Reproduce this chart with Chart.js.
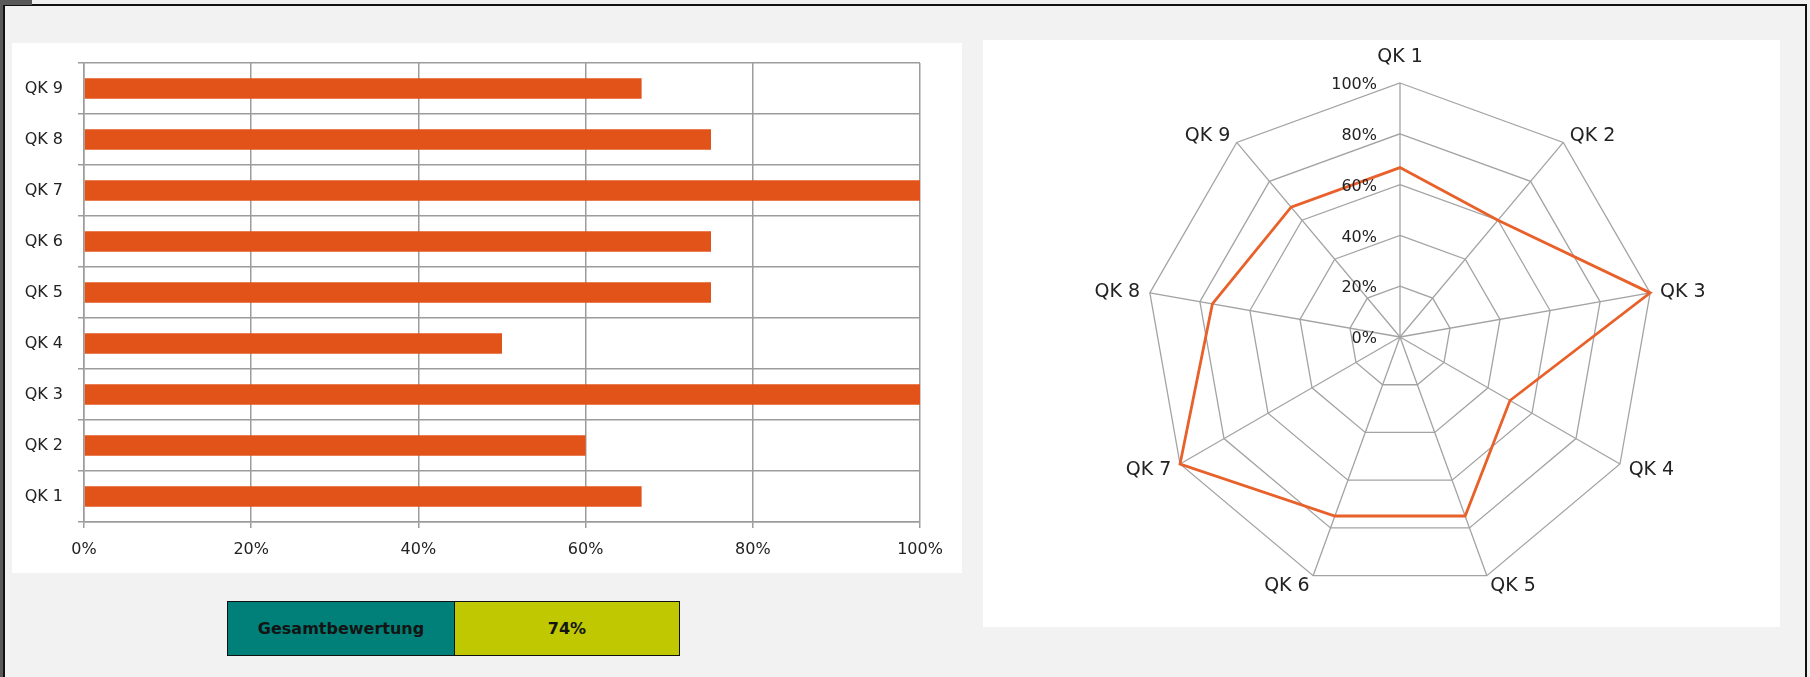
<!DOCTYPE html>
<html>
<head>
<meta charset="utf-8">
<script src="https://cdn.jsdelivr.net/npm/chart.js@4.4.1/dist/chart.umd.min.js"></script>
<style>
  html, body { margin:0; padding:0; width:1810px; height:677px; overflow:hidden; background:#f0f0f0; font-family:"DejaVu Sans", sans-serif; }
  #strip { position:absolute; left:0; top:0; width:3px; height:677px; background:#595959; }
  #tab { position:absolute; left:0; top:0; width:32px; height:5px; background:#595959; }
  #frame { position:absolute; left:3px; top:4px; width:1804px; height:700px; box-sizing:border-box;
           border-top:2px solid #111; border-left:2px solid #111; border-right:2px solid #111; background:#f2f2f2; }
  #barPanel { position:absolute; left:12px; top:43px; width:950px; height:530px; background:#fff; }
  #radarPanel { position:absolute; left:983px; top:40px; width:797px; height:587px; background:#fff; }
  #total { position:absolute; left:227px; top:601px; width:453px; height:55px; box-sizing:border-box;
           border:1.5px solid #111; display:flex; }
  #total div { display:flex; align-items:center; justify-content:center; font-weight:bold; font-size:16px; color:#141414; }
  #totalLabel { width:226px; background:#008078; border-right:1.5px solid #111; }
  #totalValue { flex:1; background:#BFC800; }
</style>
</head>
<body>
<div id="frame"></div>
<div id="strip"></div>
<div id="tab"></div>
<div id="barPanel"><canvas id="bar" width="950" height="530"></canvas></div>
<div id="radarPanel"><canvas id="radar" width="797" height="587"></canvas></div>
<div id="total"><div id="totalLabel">Gesamtbewertung</div><div id="totalValue"></div></div>
<script>
// ---- data ----
const categories = ["QK 1", "QK 2", "QK 3", "QK 4", "QK 5", "QK 6", "QK 7", "QK 8", "QK 9"];
const scores = [66.7, 60, 100, 50, 75, 75, 100, 75, 66.7];
const percentTicks = [0, 20, 40, 60, 80, 100];
const totalLabel = "Gesamtbewertung";

// ---- styles ----
const FONT = "DejaVu Sans";
const TEXT = "#222222";
const GRID = "#9c9c9c";
const RGRID = "#a3a3a3";
const BAR = "#E2531A";
const LINE = "#E8602A";

const mean = scores.reduce((a, b) => a + b, 0) / scores.length;
document.getElementById('totalLabel').textContent = totalLabel;
document.getElementById('totalValue').textContent = Math.round(mean) + "%";

Chart.defaults.animation = false;
Chart.defaults.color = TEXT;
Chart.defaults.font.family = FONT;

// ---- bar chart ----
new Chart(document.getElementById('bar'), {
  type: 'bar',
  data: {
    labels: categories,
    datasets: [{ data: scores, backgroundColor: BAR, borderWidth: 0,
                 barPercentage: 0.4, categoryPercentage: 1.0 }]
  },
  options: {
    indexAxis: 'y',
    responsive: false,
    devicePixelRatio: 1,
    layout: { padding: { top: 20, right: 42, left: 0, bottom: 0 } },
    plugins: { legend: { display: false }, tooltip: { enabled: false } },
    scales: {
      x: {
        min: 0, max: 100,
        afterBuildTicks: (s) => { s.ticks = percentTicks.map(v => ({ value: v })); },
        afterFit: (s) => { s.height = 51; },
        ticks: { callback: (v) => v + "%", font: { size: 16 }, color: TEXT, padding: 12, maxRotation: 0 },
        grid: { color: GRID, lineWidth: 1.5, tickLength: 6, drawTicks: true },
        border: { color: GRID, width: 1.5 }
      },
      y: {
        reverse: true,
        afterFit: (s) => { s.width = 72; s.paddingTop = 0; s.paddingBottom = 0; },
        ticks: { font: { size: 16 }, color: TEXT, padding: 15 },
        grid: { color: GRID, lineWidth: 1.5, tickLength: 6, offset: true },
        border: { color: GRID, width: 1.5 }
      }
    }
  }
});

// ---- radar chart ----
const radarText = {
  id: 'radarText',
  afterDraw(chart) {
    const s = chart.scales.r;
    const ctx = chart.ctx;
    ctx.save();
    ctx.fillStyle = TEXT;
    // tick labels, right-aligned left of the vertical axis
    ctx.font = "16px '" + FONT + "'";
    ctx.textAlign = 'right';
    ctx.textBaseline = 'middle';
    s.ticks.forEach((t) => {
      const d = s.getDistanceFromCenterForValue(t.value);
      ctx.fillText(t.value + "%", s.xCenter - 23, s.yCenter - d + 2);
    });
    // point labels
    ctx.font = "19px '" + FONT + "'";
    chart.data.labels.forEach((lab, i) => {
      const p = s.getPointPosition(i, s.drawingArea + 10);
      const dx = p.x - s.xCenter, dy = p.y - s.yCenter;
      const r = Math.hypot(dx, dy);
      const sn = dx / r, cs = -dy / r;
      let y = p.y + 1;
      if (Math.abs(sn) < 0.02) { ctx.textAlign = 'center'; y = p.y - cs * 16; }
      else ctx.textAlign = sn > 0 ? 'left' : 'right';
      ctx.fillText(lab, p.x, y);
    });
    ctx.restore();
  }
};

new Chart(document.getElementById('radar'), {
  type: 'radar',
  data: {
    labels: categories,
    datasets: [{ data: scores, borderColor: LINE, borderWidth: 2.8, pointRadius: 0,
                 fill: false, tension: 0, borderJoinStyle: 'miter' }]
  },
  options: {
    responsive: false,
    devicePixelRatio: 1,
    layout: { padding: { left: 162, top: 43, right: 125, bottom: 35 } },
    plugins: { legend: { display: false }, tooltip: { enabled: false } },
    scales: {
      r: {
        min: 0, max: 100,
        ticks: { stepSize: 20, display: false, showLabelBackdrop: false },
        pointLabels: { display: false },
        grid: { color: RGRID, lineWidth: 1.3 },
        angleLines: { color: RGRID, lineWidth: 1.3 }
      }
    }
  },
  plugins: [radarText]
});
</script>
</body>
</html>
